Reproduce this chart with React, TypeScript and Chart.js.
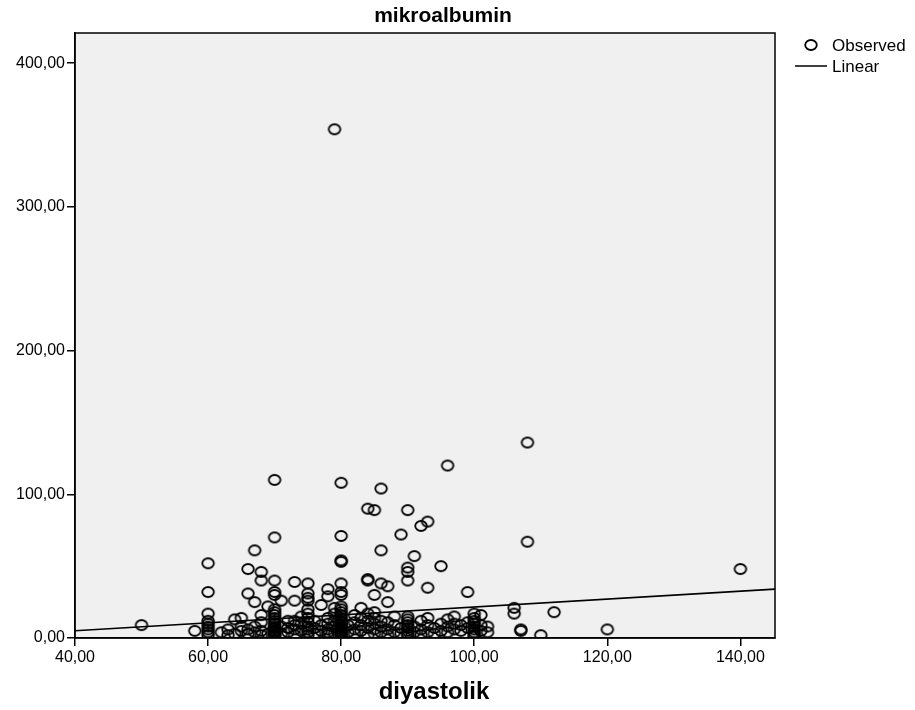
import React, { useEffect, useRef } from "react";
import { Chart, registerables } from "chart.js";

Chart.register(...registerables);

const chartTitle = "mikroalbumin";
const xAxisTitle = "diyastolik";
const seriesLabels = ["Observed", "Linear"];
const xTicks = [40, 60, 80, 100, 120, 140];
const yTicks = [0, 100, 200, 300, 400];
const xRange = [40, 145.2];
const yRange = [0, 421];

// [diyastolik, mikroalbumin] – sparse / higher observations
const upperPoints: [number, number][] = [
  [79, 354], [108, 136], [96, 120], [70, 110], [80, 108], [86, 104], [84, 90], [85, 89],
  [90, 89], [93, 81], [92, 78], [89, 72], [80, 71], [70, 70], [108, 67], [67, 61],
  [86, 61], [91, 57], [80, 54], [80, 53], [60, 52], [95, 50], [140, 48], [66, 48],
  [90, 49], [90, 46], [68, 46], [84, 41], [84, 40], [68, 40], [70, 40], [90, 40],
  [73, 39], [80, 38], [86, 38], [75, 38], [87, 36], [93, 35], [78, 34], [99, 32],
  [60, 32], [70, 32], [70, 30], [66, 31], [80, 32], [80, 30], [85, 30], [78, 29],
  [75, 31], [75, 28], [75, 26], [71, 26], [73, 26], [67, 25], [87, 25], [77, 23],
  [83, 21], [106, 21], [79, 21], [69, 22], [112, 18], [106, 17], [60, 17], [80, 18],
  [101, 16], [97, 15], [68, 16], [65, 14], [64, 13], [72, 12], [73, 12], [50, 9],
  [58, 5], [107, 6], [107, 5], [110, 2], [120, 6],
];

// [diyastolik, mikroalbumin] – dense low cluster
const lowerPoints: [number, number][] = [
  [60, 2], [60, 4], [60, 6], [60, 8], [60, 10], [60, 12], [62, 4], [63, 2], [63, 6],
  [64, 3], [65, 5], [65, 8], [66, 3], [66, 6], [67, 4], [67, 8], [68, 2], [68, 5],
  [68, 11], [69, 3],
  [70, 1], [70, 2], [70, 3], [70, 4], [70, 5], [70, 6], [70, 7], [70, 8], [70, 10],
  [70, 12], [70, 14], [70, 16], [70, 18], [70, 20],
  [71, 3], [71, 8], [72, 4], [72, 7], [73, 2], [73, 6], [73, 9], [74, 5], [74, 10], [74, 15],
  [75, 2], [75, 4], [75, 6], [75, 8], [75, 11], [75, 14], [75, 17], [75, 20],
  [76, 3], [76, 7], [76, 12], [77, 5], [77, 9], [78, 2], [78, 4], [78, 6], [78, 10], [78, 14],
  [79, 3], [79, 8], [79, 12], [79, 17],
  [80, 1], [80, 2], [80, 3], [80, 4], [80, 5], [80, 6], [80, 7], [80, 8], [80, 9], [80, 10],
  [80, 11], [80, 12], [80, 14], [80, 16], [80, 20], [80, 22],
  [81, 4], [81, 9], [82, 3], [82, 6], [82, 11], [82, 16], [83, 5], [83, 9], [83, 14],
  [84, 2], [84, 7], [84, 12], [84, 17], [85, 3], [85, 6], [85, 10], [85, 14], [85, 18],
  [86, 4], [86, 8], [86, 12], [87, 2], [87, 6], [87, 11], [88, 4], [88, 9], [88, 15],
  [89, 3], [89, 7],
  [90, 1], [90, 3], [90, 5], [90, 7], [90, 9], [90, 11], [90, 13], [90, 15],
  [91, 4], [91, 8], [92, 2], [92, 6], [92, 12], [93, 4], [93, 9], [93, 14], [94, 3], [94, 7],
  [95, 5], [95, 10], [96, 4], [96, 8], [96, 13], [97, 6], [97, 10], [98, 5], [98, 9],
  [99, 7], [99, 11],
  [100, 1], [100, 2], [100, 4], [100, 6], [100, 8], [100, 10], [100, 12], [100, 14], [100, 17],
  [101, 5], [101, 9], [102, 4], [102, 8],
];

// Linear fit line end points [diyastolik, mikroalbumin]
const linearFit: [number, number][] = [
  [40, 5.0],
  [145.2, 34.0],
];

const FONT = "'Liberation Sans', Arial, sans-serif";
const fmt = (v: number) => v.toFixed(2).replace(".", ",");

function makeMarker(): HTMLCanvasElement {
  const c = document.createElement("canvas");
  c.width = 16;
  c.height = 14;
  const ctx = c.getContext("2d")!;
  ctx.strokeStyle = "#000";
  ctx.lineWidth = 1.8;
  ctx.beginPath();
  ctx.ellipse(8, 7, 5.8, 5.0, 0, 0, Math.PI * 2);
  ctx.stroke();
  return c;
}

export default function App() {
  const canvasRef = useRef<HTMLCanvasElement | null>(null);

  useEffect(() => {
    const canvas = canvasRef.current;
    if (!canvas) return;
    const marker = makeMarker();

    const framePlugin = {
      id: "spssFrame",
      beforeDraw(chart: any) {
        const { ctx, chartArea: a } = chart;
        ctx.save();
        ctx.fillStyle = "#F0F0F0";
        ctx.fillRect(a.left, a.top, a.right - a.left, a.bottom - a.top);
        ctx.restore();
      },
      afterDraw(chart: any) {
        const { ctx, chartArea: a } = chart;
        ctx.save();
        ctx.strokeStyle = "#000";
        ctx.lineWidth = 1.5;
        ctx.strokeRect(a.left, a.top, a.right - a.left, a.bottom - a.top);

        ctx.fillStyle = "#000";
        ctx.textBaseline = "middle";
        ctx.textAlign = "center";
        ctx.font = `bold 21px ${FONT}`;
        ctx.fillText(chartTitle, 443, 16);
        ctx.font = `bold 24px ${FONT}`;
        ctx.fillText(xAxisTitle, 434, 692);

        // legend
        ctx.textAlign = "left";
        ctx.font = `17px ${FONT}`;
        ctx.drawImage(marker, 811 - 8, 45 - 7);
        ctx.fillText(seriesLabels[0], 832, 46);
        ctx.beginPath();
        ctx.lineWidth = 1.5;
        ctx.moveTo(795, 66);
        ctx.lineTo(827, 66);
        ctx.stroke();
        ctx.fillText(seriesLabels[1], 832, 67);
        ctx.restore();
      },
    };

    const observed = [...upperPoints, ...lowerPoints].map(([x, y]) => ({ x, y }));

    const chart = new Chart(canvas, {
      type: "scatter",
      data: {
        datasets: [
          {
            label: seriesLabels[0],
            data: observed,
            pointStyle: marker as any,
            pointRadius: 6,
            borderColor: "#000",
            backgroundColor: "rgba(0,0,0,0)",
            showLine: false,
            order: 2,
          },
          {
            label: seriesLabels[1],
            data: linearFit.map(([x, y]) => ({ x, y })),
            showLine: true,
            borderColor: "#000",
            borderWidth: 1.6,
            pointRadius: 0,
            fill: false,
            order: 1,
          },
        ],
      },
      options: {
        responsive: false,
        animation: false,
        events: [],
        layout: { padding: { top: 33, right: 140, left: 0, bottom: 0 } },
        plugins: {
          legend: { display: false },
          title: { display: false },
          tooltip: { enabled: false },
        },
        scales: {
          x: {
            type: "linear",
            min: xRange[0],
            max: xRange[1],
            afterBuildTicks: (s: any) => {
              s.ticks = xTicks.map((v) => ({ value: v }));
            },
            afterFit: (s: any) => {
              s.height = 72;
            },
            grid: {
              drawOnChartArea: false,
              drawTicks: true,
              tickLength: 8,
              color: "#000",
              lineWidth: 1.5,
            },
            border: { display: true, color: "#000", width: 1.5 },
            ticks: {
              color: "#000",
              font: { family: FONT, size: 16 },
              padding: 2,
              maxRotation: 0,
              autoSkip: false,
              callback: (v: any) => fmt(Number(v)),
            },
          },
          y: {
            type: "linear",
            min: yRange[0],
            max: yRange[1],
            afterBuildTicks: (s: any) => {
              s.ticks = yTicks.map((v) => ({ value: v }));
            },
            afterFit: (s: any) => {
              s.width = 75;
            },
            grid: {
              drawOnChartArea: false,
              drawTicks: true,
              tickLength: 8,
              color: "#000",
              lineWidth: 1.5,
            },
            border: { display: true, color: "#000", width: 1.5 },
            ticks: {
              color: "#000",
              font: { family: FONT, size: 16 },
              padding: 2,
              autoSkip: false,
              callback: (v: any) => fmt(Number(v)),
            },
          },
        },
      },
      plugins: [framePlugin],
    });

    return () => chart.destroy();
  }, []);

  return (
    <div style={{ position: "absolute", left: 0, top: 0, width: 915, height: 710, background: "#fff" }}>
      <canvas ref={canvasRef} width={915} height={710} style={{ display: "block" }} />
    </div>
  );
}
